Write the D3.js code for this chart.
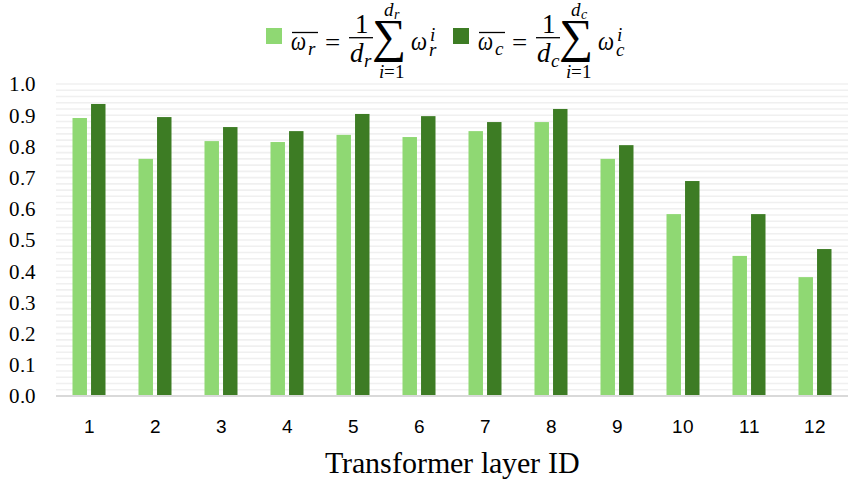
<!DOCTYPE html>
<html lang="en">
<head>
<meta charset="UTF-8"/>
<title>Transformer layer weights</title>
<script src="https://d3js.org/d3.v7.min.js"></script>
<style>
  @font-face { font-family: "ChartSerif"; font-style: normal; src: local("Liberation Serif"), local("LiberationSerif"), local("LiberationSerif-Regular"), local("DejaVu Serif"); }
  @font-face { font-family: "ChartSerif"; font-style: italic; src: local("Liberation Serif Italic"), local("LiberationSerif-Italic"), local("DejaVu Serif Italic"); }
  @font-face { font-family: "ChartSans"; src: local("Liberation Sans"), local("LiberationSans"), local("LiberationSans-Regular"); }
  body { margin: 0; background: #fff; }
  svg { display: block; }
  .serif { font-family: "ChartSerif", "Liberation Serif", "DejaVu Serif", serif; }
  .sans { font-family: "ChartSans", "Liberation Sans", "DejaVu Sans", sans-serif; }
</style>
</head>
<body>
<script>
    var w = 863;
    var h = 484;

    // data
    var layers = ["1","2","3","4","5","6","7","8","9","10","11","12"];
    var seriesKeys = ["r", "c"];
    var rowMean = [0.891, 0.760, 0.817, 0.814, 0.837, 0.830, 0.849, 0.878, 0.760, 0.583, 0.449, 0.381];
    var colMean = [0.936, 0.894, 0.862, 0.849, 0.904, 0.897, 0.878, 0.920, 0.804, 0.689, 0.583, 0.471];
    var yTicks = [0, 0.1, 0.2, 0.3, 0.4, 0.5, 0.6, 0.7, 0.8, 0.9, 1.0];
    var colors = { r: "#8fd873", c: "#3d7c24" };

    // plot box ("top" is taken by window.top)
    var plotLeft = 56, plotRight = 848, plotTop = 84, plotBottom = 396;

    var xScale = d3.scaleBand()
        .domain(layers)
        .range([plotLeft, plotRight])
        .paddingInner(0.5)
        .paddingOuter(0.25);

    var xSub = d3.scaleBand()
        .domain(seriesKeys)
        .range([0, xScale.bandwidth()])
        .paddingInner(0.22);

    var yScale = d3.scaleLinear()
        .domain([0, 1])
        .range([plotBottom, plotTop]);

    var svg = d3.select("body")
        .append("svg")
        .attr("width", w)
        .attr("height", h);

    // fine gridlines every 0.02
    var gridVals = d3.range(1, 51).map(function(i){ return i / 50; });
    svg.append("g")
        .selectAll("line")
        .data(gridVals)
        .enter()
        .append("line")
        .attr("x1", plotLeft)
        .attr("x2", plotRight)
        .attr("y1", function(d){ return yScale(d); })
        .attr("y2", function(d){ return yScale(d); })
        .attr("stroke", "#f0f0f0")
        .attr("stroke-width", 1.6);

    var rows = layers.map(function(l, i){
        return { layer: l, r: rowMean[i], c: colMean[i] };
    });

    var groups = svg.append("g")
        .selectAll("g")
        .data(rows)
        .enter()
        .append("g")
        .attr("transform", function(d){ return "translate(" + xScale(d.layer) + ",0)"; });

    groups.selectAll("rect")
        .data(function(d){ return seriesKeys.map(function(k){ return { key: k, value: d[k] }; }); })
        .enter()
        .append("rect")
        .attr("x", function(d){ return xSub(d.key); })
        .attr("y", function(d){ return yScale(d.value); })
        .attr("width", xSub.bandwidth())
        .attr("height", function(d){ return yScale(0) - yScale(d.value); })
        .attr("fill", function(d){ return colors[d.key]; });

    // baseline
    svg.append("line")
        .attr("x1", plotLeft)
        .attr("x2", plotRight)
        .attr("y1", yScale(0))
        .attr("y2", yScale(0))
        .attr("stroke", "#d9d9d9")
        .attr("stroke-width", 2);

    // y labels
    svg.append("g")
        .selectAll("text")
        .data(yTicks)
        .enter()
        .append("text")
        .attr("class", "serif")
        .attr("x", 36)
        .attr("y", function(d){ return yScale(d); })
        .attr("dy", "0.35em")
        .attr("text-anchor", "end")
        .style("font-size", "21px")
        .attr("fill", "#000")
        .text(function(d){ return d3.format(".1f")(d); });

    // x labels
    svg.append("g")
        .selectAll("text")
        .data(layers)
        .enter()
        .append("text")
        .attr("class", "sans")
        .attr("x", function(d){ return xScale(d) + xScale.bandwidth() / 2; })
        .attr("y", 433)
        .attr("text-anchor", "middle")
        .style("font-size", "19px")
        .attr("fill", "#000")
        .text(function(d){ return d; });

    svg.append("text")
        .attr("class", "serif")
        .attr("x", (plotLeft + plotRight) / 2)
        .attr("y", 473)
        .attr("text-anchor", "middle")
        .style("font-size", "30px")
        .attr("fill", "#000")
        .text("Transformer layer ID");

    // legend: swatch + formula for each series
    function put(g, str, x, y, size, italic, len) {
        var t = g.append("text")
            .attr("class", "serif")
            .attr("x", x)
            .attr("y", y)
            .style("font-size", size + "px")
            .style("font-style", italic ? "italic" : "normal")
            .attr("fill", "#000")
            .text(str);
        if (len) t.attr("textLength", len).attr("lengthAdjust", "spacingAndGlyphs");
        return t;
    }
    function hline(g, x1, x2, y) {
        g.append("line")
            .attr("x1", x1).attr("x2", x2)
            .attr("y1", y).attr("y2", y)
            .attr("stroke", "#000")
            .attr("stroke-width", 1.3);
    }

    var legend = svg.append("g")
        .selectAll("g")
        .data(seriesKeys)
        .enter()
        .append("g")
        .attr("transform", function(d, i){ return "translate(" + (i * 187) + ",0)"; });

    legend.each(function(k){
        var g = d3.select(this);
        g.append("rect")
            .attr("x", 266).attr("y", 28)
            .attr("width", 16).attr("height", 16)
            .attr("fill", colors[k]);
        // mean omega with overline
        put(g, "ω", 291, 50, 27, true, 15);
        put(g, k, 308, 55, 19, true);
        hline(g, 292, 318, 32.5);
        put(g, "=", 325, 51, 27, false);
        // 1 / d_k
        put(g, "1", 355, 33, 27, false);
        hline(g, 349, 373, 37.7);
        put(g, "d", 350, 62, 27, true);
        put(g, k, 364, 67, 19, true);
        // summation with limits
        put(g, "∑", 372, 52, 48, false);
        put(g, "d", 384, 16, 19, true);
        put(g, k, 394, 19, 14, true);
        var lim = put(g, "i", 379, 78, 19, true);
        lim.append("tspan").style("font-style", "normal").text("=1");
        // omega_k^i
        put(g, "ω", 411, 50, 27, true, 16);
        put(g, "i", 430, 41, 19, true);
        put(g, k, 429, 56, 19, true);
    });
</script>
</body>
</html>
